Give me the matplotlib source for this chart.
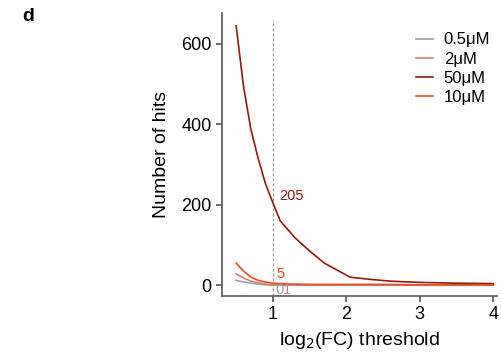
import matplotlib
matplotlib.use("Agg")
import matplotlib.pyplot as plt

plt.rcParams["font.family"] = ["Liberation Sans", "DejaVu Sans"]

# Number of hits vs log2(FC) threshold, per concentration
x_50 = [0.5, 0.6, 0.7, 0.8, 0.9, 1.0, 1.1, 1.3, 1.5, 1.7, 1.85, 2.05, 2.3, 2.6, 3.0, 3.5, 4.0]
hits_50 = [645, 495, 388, 315, 252, 205, 160, 118, 85, 55, 40, 20, 15, 10, 7, 5, 4]

x_low = [0.5, 0.6, 0.7, 0.8, 0.9, 1.0, 1.2, 1.5, 2.0, 2.5, 3.0, 3.5, 4.0]
hits_10 = [55, 35, 20, 12, 8, 5, 3, 2, 2, 2, 1, 1, 1]
hits_2 = [28, 18, 10, 6, 3, 1, 1, 1, 0, 0, 0, 0, 0]
hits_05 = [12, 8, 5, 3, 1, 0, 0, 0, 0, 0, 0, 0, 0]

series = [
    ("0.5\u03bcM", x_low, hits_05, "#9d9da6"),
    ("2\u03bcM", x_low, hits_2, "#c48a7e"),
    ("50\u03bcM", x_50, hits_50, "#8e1c10"),
    ("10\u03bcM", x_low, hits_10, "#ee4a22"),
]

fig = plt.figure(figsize=(5.02, 3.58), dpi=100)
ax = fig.add_axes([0.442, 0.173, 0.548, 0.791])

for label, xs, ys, color in series:
    ax.plot(xs, ys, color=color, lw=1.2, label=label)

ax.plot([1, 1], [-27, 660], color="#a0a0a0", lw=0.9, ls=(0, (2.5, 1.5)), zorder=0)

# values at the threshold of 1
ax.text(1.08, 222, "205", color="#8e1c10", fontsize=10.5, va="center")
ax.text(1.05, 27, "5", color="#ee4a22", fontsize=10.5, va="center")
ax.text(1.03, -12, "0", color="#9d9da6", fontsize=10.5, va="center")
ax.text(1.13, -12, "1", color="#c48a7e", fontsize=10.5, va="center")

ax.set_xlim(0.306, 4.05)
ax.set_ylim(-27, 677)
ax.set_xticks([1, 2, 3, 4])
ax.set_yticks([0, 200, 400, 600])
ax.tick_params(labelsize=13, color="#555555", length=4, width=1.2)
ax.spines["top"].set_visible(False)
ax.spines["right"].set_visible(False)
for s in ("left", "bottom"):
    ax.spines[s].set_color("#555555")
    ax.spines[s].set_linewidth(1.2)

ax.set_xlabel("log$_2$(FC) threshold", fontsize=14, labelpad=5)
ax.set_ylabel("Number of hits", fontsize=14, labelpad=8)

ax.legend(loc="upper right", bbox_to_anchor=(1.018, 0.972), frameon=False, fontsize=12,
          handlelength=1.0, handletextpad=0.65, labelspacing=0.25, borderaxespad=0.3)

fig.text(0.045, 0.955, "d", fontsize=14, fontweight="bold", va="center")

fig.savefig("out.png", dpi=100)
